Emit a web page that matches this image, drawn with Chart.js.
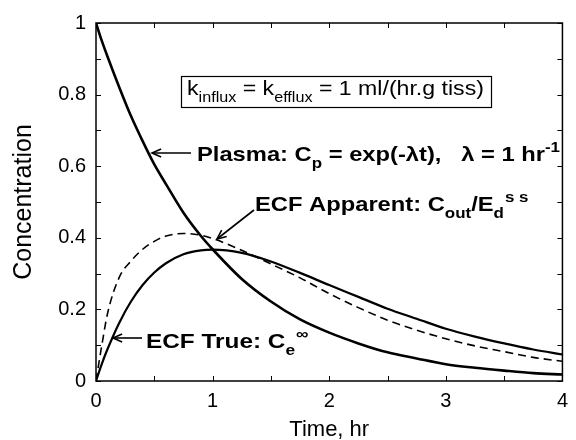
<!DOCTYPE html>
<html><head><meta charset="utf-8">
<script src="https://cdn.jsdelivr.net/npm/chart.js@4/dist/chart.umd.min.js"></script>
<style>html,body{margin:0;padding:0;background:#fff}#wrap{width:576px;height:440px;position:relative}</style>
</head><body><div id="wrap"><canvas id="c"></canvas></div>
<script>
// ---- data ----
const timeHr      = [0, 0.05, 0.1, 0.2, 0.3, 0.4, 0.5, 0.6, 0.75, 0.9, 1.0, 1.25, 1.5, 1.75, 2.0, 2.25, 2.5, 2.75, 3.0, 3.25, 3.5, 3.75, 4.0];
const plasma      = [1, 0.95, 0.905, 0.82, 0.74, 0.67, 0.605, 0.55, 0.47, 0.405, 0.368, 0.285, 0.222, 0.172, 0.135, 0.105, 0.08, 0.063, 0.047, 0.037, 0.029, 0.022, 0.018];
const ecfTrue     = [0, 0.048, 0.09, 0.163, 0.222, 0.268, 0.303, 0.329, 0.354, 0.365, 0.367, 0.358, 0.334, 0.302, 0.268, 0.235, 0.202, 0.174, 0.146, 0.124, 0.105, 0.088, 0.074];
const ecfApparent = [0, 0.10, 0.19, 0.29, 0.335, 0.368, 0.39, 0.405, 0.412, 0.407, 0.398, 0.365, 0.327, 0.288, 0.244, 0.205, 0.170, 0.142, 0.118, 0.098, 0.082, 0.066, 0.055];
const xTicks = [0, 1, 2, 3, 4];
const yTicks = [0, 0.2, 0.4, 0.6, 0.8, 1];
const xTitle = 'Time, hr';
const yTitle = 'Concentration';

const FONT = '"Liberation Sans", Arial, Helvetica, sans-serif';
const pts = arr => timeHr.map((t, i) => ({x: t, y: arr[i]}));

function rich(ctx, x, y, parts, size, weight, hs) {
  ctx.save(); ctx.translate(x, y); ctx.scale(hs, 1);
  let cx = 0;
  for (const [t, k] of parts) {
    let fs = size, dy = 0;
    if (k === 'sub') { fs = Math.round(size * 0.72); dy = size * 0.34; }
    if (k === 'sup') { fs = Math.round(size * 0.72); dy = -size * 0.42; }
    ctx.font = `${weight} ${fs}px ${FONT}`;
    ctx.fillText(t, cx, dy);
    cx += ctx.measureText(t).width;
  }
  ctx.restore();
  return x + cx * hs;
}
function arrow(ctx, x1, y1, x2, y2) { // tail -> tip
  ctx.beginPath(); ctx.moveTo(x1, y1); ctx.lineTo(x2, y2); ctx.stroke();
  const a = Math.atan2(y2 - y1, x2 - x1), L = 10, w = 0.42;
  ctx.beginPath();
  ctx.moveTo(x2 - L * Math.cos(a - w), y2 - L * Math.sin(a - w));
  ctx.lineTo(x2, y2);
  ctx.lineTo(x2 - L * Math.cos(a + w), y2 - L * Math.sin(a + w));
  ctx.stroke();
}

const framePlugin = {
  id: 'frame',
  afterDatasetsDraw(chart) {
    const {ctx, chartArea: a, scales: {x, y}} = chart;
    ctx.save();
    ctx.strokeStyle = '#000'; ctx.lineWidth = 1.5;
    ctx.strokeRect(a.left, a.top, a.right - a.left, a.bottom - a.top);
    ctx.lineWidth = 1;
    for (let i = 0; i <= 10; i++) {
      const py = Math.round(y.getPixelForValue(i / 10)) + 0.5;
      ctx.beginPath(); ctx.moveTo(a.left, py); ctx.lineTo(a.left + 5, py);
      ctx.moveTo(a.right, py); ctx.lineTo(a.right - 5, py); ctx.stroke();
    }
    for (let i = 0; i <= 8; i++) {
      const px = Math.round(x.getPixelForValue(i / 2)) + 0.5;
      ctx.beginPath(); ctx.moveTo(px, a.bottom); ctx.lineTo(px, a.bottom - 5);
      ctx.moveTo(px, a.top); ctx.lineTo(px, a.top + 5); ctx.stroke();
    }
    // annotations
    ctx.fillStyle = '#000'; ctx.textBaseline = 'alphabetic'; ctx.textAlign = 'left';
    ctx.lineWidth = 1.2;
    ctx.strokeRect(181.5, 76.5, 310, 31);
    rich(ctx, 187, 95, [['k',''],['influx','sub'],[' = k',''],['efflux','sub'],[' = 1 ml/(hr.g tiss)','']], 20, 'normal', 1.155);
    ctx.lineWidth = 1.6;
    arrow(ctx, 191, 153, 152, 153);
    rich(ctx, 197, 161, [['Plasma: C',''],['p','sub'],[' = exp(-\u03BBt),   \u03BB = 1 hr',''],['-1','sup']], 21, 'bold', 1.13);
    arrow(ctx, 254, 210, 217, 239);
    let ex = rich(ctx, 255, 211, [['ECF Apparent: C',''],['out','sub'],['/E',''],['d','sub']], 21, 'bold', 1.13);
    rich(ctx, ex + 1, 211, [['s s','sup']], 21, 'bold', 1.13);
    arrow(ctx, 142, 338, 113, 338);
    let tx = rich(ctx, 146, 348, [['ECF True: C',''],['e','sub']], 21, 'bold', 1.16);
    rich(ctx, tx + 1, 348, [['\u221E','sup']], 21, 'bold', 1.16);
    ctx.restore();
  }
};

new Chart(document.getElementById('c'), {
  type: 'line',
  data: {
    datasets: [
      {label: 'Plasma', data: pts(plasma), borderColor: '#000', borderWidth: 2.6, pointRadius: 0, fill: false, cubicInterpolationMode: 'monotone'},
      {label: 'ECF True', data: pts(ecfTrue), borderColor: '#000', borderWidth: 2.2, pointRadius: 0, fill: false, cubicInterpolationMode: 'monotone'},
      {label: 'ECF Apparent', data: pts(ecfApparent), borderColor: '#000', borderWidth: 1.6, borderDash: [8, 5], pointRadius: 0, fill: false, cubicInterpolationMode: 'monotone'}
    ]
  },
  options: {
    responsive: true, maintainAspectRatio: false, animation: false,
    layout: {padding: {top: 23, right: 5, bottom: 0, left: 0}},
    plugins: {legend: {display: false}, tooltip: {enabled: false}},
    scales: {
      x: {
        type: 'linear', min: 0, max: 4,
        afterFit: s => { s.height = 59; },
        afterBuildTicks: s => { s.ticks = xTicks.map(v => ({value: v})); },
        grid: {display: false, drawTicks: false}, border: {display: false},
        ticks: {color: '#000', padding: 8, font: {family: FONT, size: 20}, callback: v => String(v)},
        title: {display: true, text: xTitle, color: '#000', font: {family: FONT, size: 22}, padding: {top: 0, bottom: -3}}
      },
      y: {
        type: 'linear', min: 0, max: 1,
        afterFit: s => { s.width = 96; },
        afterBuildTicks: s => { s.ticks = yTicks.map(v => ({value: v})); },
        grid: {display: false, drawTicks: false}, border: {display: false},
        ticks: {color: '#000', padding: 10, font: {family: FONT, size: 20}, callback: v => String(v)},
        title: {display: true, text: yTitle, color: '#000', font: {family: FONT, size: 25}, padding: {top: 9, bottom: 0}}
      }
    }
  },
  plugins: [framePlugin]
});
</script></body></html>
